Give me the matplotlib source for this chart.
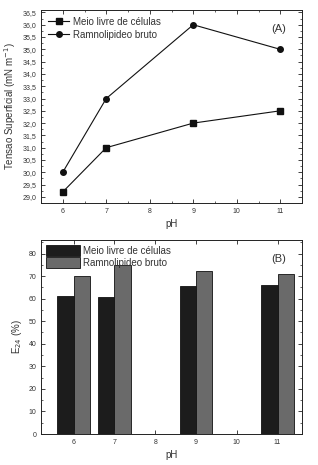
import matplotlib
matplotlib.use("Agg")
import matplotlib.pyplot as plt
from matplotlib.ticker import MultipleLocator, FuncFormatter

ph = [6, 7, 9, 11]
meio_tensao = [29.2, 31.0, 32.0, 32.5]
ramno_tensao = [30.0, 33.0, 36.0, 35.0]
meio_e24 = [61.3, 60.8, 65.7, 66.0]
ramno_e24 = [70.0, 75.0, 72.2, 70.9]
lab_meio = "Meio livre de células"
lab_ramno = "Ramnolipideo bruto"

plt.rcParams['font.family'] = ['Liberation Sans', 'DejaVu Sans']
plt.rcParams['font.size'] = 6
txt = '#333333'

fig = plt.figure(figsize=(3.18, 4.65), dpi=100)
ax1 = fig.add_axes([41/318, 1-203/465, 261/318, 193/465])
ax2 = fig.add_axes([41/318, 1-434/465, 261/318, 194/465])

# panel A
ax1.plot(ph, meio_tensao, '-s', color='#111111', lw=0.8, ms=4, label=lab_meio)
ax1.plot(ph, ramno_tensao, '-o', color='#111111', lw=0.8, ms=4, label=lab_ramno)
ax1.set_xlim(5.5, 11.5)
ax1.set_ylim(28.75, 36.6)
ax1.yaxis.set_major_locator(MultipleLocator(0.5))
ax1.yaxis.set_major_formatter(FuncFormatter(lambda v, p: f"{v:.1f}".replace('.', ',')))
ax1.yaxis.set_minor_locator(MultipleLocator(0.25))
ax1.xaxis.set_major_locator(MultipleLocator(1))
ax1.xaxis.set_minor_locator(MultipleLocator(0.5))
ax1.set_xlabel("pH", fontsize=7, color=txt, labelpad=3)
ax1.set_ylabel("Tensao Superficial (mN m$^{-1}$)", fontsize=7, color=txt, labelpad=3)
ax1.text(0.94, 0.93, "(A)", transform=ax1.transAxes, ha='right', va='top', fontsize=8, color=txt)
ax1.legend(loc='upper left', frameon=False, fontsize=7, handlelength=2.2,
           borderaxespad=0.3, labelspacing=0.3, handletextpad=0.4, labelcolor=txt)

# panel B
w = 0.4
ax2.bar([p - w/2 for p in ph], meio_e24, width=w, color='#1c1c1c', edgecolor='#111111', lw=0.6, label=lab_meio)
ax2.bar([p + w/2 for p in ph], ramno_e24, width=w, color='#6a6a6a', edgecolor='#111111', lw=0.6, label=lab_ramno)
ax2.set_xlim(5.2, 11.6)
ax2.set_ylim(0, 86)
ax2.yaxis.set_major_locator(MultipleLocator(10))
ax2.yaxis.set_minor_locator(MultipleLocator(5))
ax2.xaxis.set_major_locator(MultipleLocator(1))
ax2.set_xlabel("pH", fontsize=7, color=txt, labelpad=3)
ax2.set_ylabel("E$_{24}$ (%)", fontsize=7, color=txt, labelpad=3)
ax2.text(0.94, 0.93, "(B)", transform=ax2.transAxes, ha='right', va='top', fontsize=8, color=txt)
ax2.legend(loc='upper left', frameon=False, fontsize=7, handlelength=3.5, handleheight=1.4,
           borderaxespad=0.1, labelspacing=0.1, handletextpad=0.3, labelcolor=txt)

for ax in (ax1, ax2):
    ax.tick_params(which='both', direction='in', top=True, right=True, labelsize=5, colors='#222222', labelcolor=txt)
    ax.tick_params(which='major', length=3, width=0.6)
    ax.tick_params(which='minor', length=1.5, width=0.5)
    for s in ax.spines.values():
        s.set_linewidth(0.7)
        s.set_color('#222222')

fig.savefig("out.png", dpi=100)
